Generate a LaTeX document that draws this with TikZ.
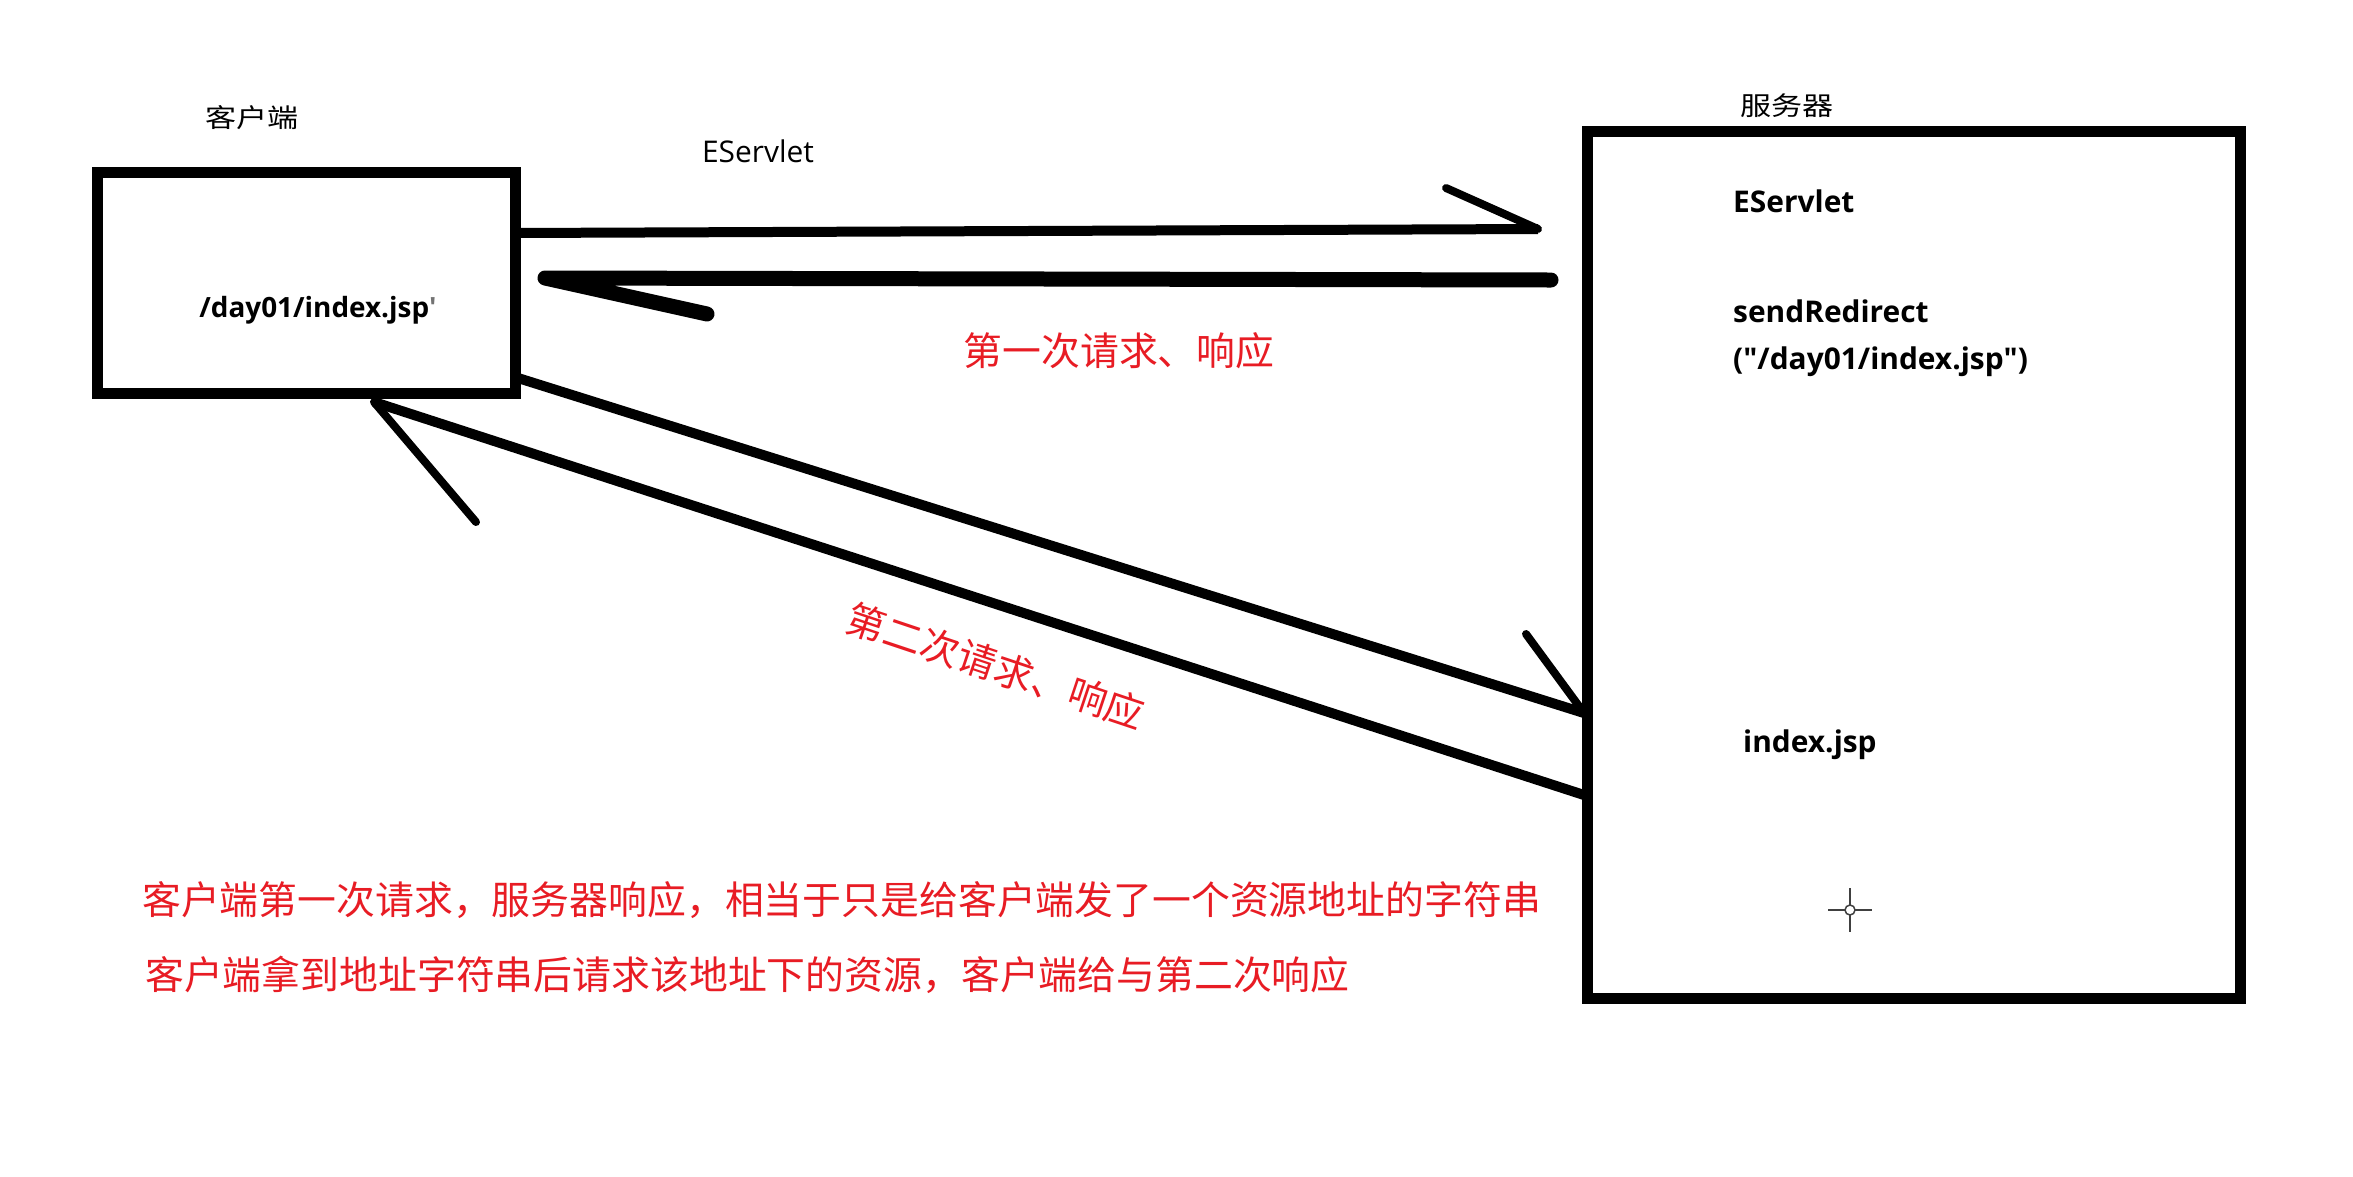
\documentclass[tikz,border=0pt]{standalone}
\usepackage{fontspec}
\setmainfont{Open Sans}
\newfontfamily\cjk{Noto Sans CJK SC}
\newfontfamily\cjkwide[FakeStretch=1.2]{Noto Sans CJK SC}
\definecolor{redtxt}{RGB}{232,28,36}
\begin{document}
\begin{tikzpicture}[x=1bp,y=-1bp,
  box/.style={draw=black, line width=11bp, inner sep=0pt},
  lbl/.style={inner sep=0pt, font=\cjkwide\fontsize{26}{30}\selectfont},
  latin/.style={inner sep=0pt, font=\fontsize{30}{36}\selectfont},
  code/.style={inner sep=0pt, anchor=west, font=\bfseries\fontsize{30}{36}\selectfont},
  redlbl/.style={inner sep=0pt, text=redtxt, font=\cjk\fontsize{39}{46}\selectfont},
  wire/.style={line width=10bp, line join=round},
  barb/.style={line width=8bp, line cap=round},
  thick wire/.style={line width=15bp, line cap=round, line join=round}]
\fill[white] (0,0) rectangle (2353,1176);
\useasboundingbox (0,0) rectangle (2353,1176);

% boxes
\node[box, minimum width=417bp, minimum height=221bp] (client) at (306.5,282.5) {};
\node[box, minimum width=653bp, minimum height=867bp] (server) at (1913.5,564.5) {};

% titles
\node[lbl] (clientlbl) at (252,118) {客户端};
\node[lbl] (serverlbl) at (1787,106) {服务器};
\node[latin] (eslbl) at (758,151) {EServlet};

% texts in boxes
\node[inner sep=0pt, font=\bfseries\fontsize{28}{34}\selectfont] (path) at (318,310) {/day01/index.jsp\textcolor{black!55}{\textquotesingle}};
\node[code] (es) at (1733,201) {EServlet};
\node[code] (sr) at (1733,311) {sendRedirect};
\node[code] (arg) at (1733,362) {(\textquotedbl/day01/index.jsp\textquotedbl)};
\node[code] (idx) at (1743,745) {index.jsp};

% first request / response
\coordinate (r1s) at (515,233);
\coordinate (r1e) at (1538,229);
\coordinate (r1b) at (1446,188);
\draw[wire] (r1s) -- (r1e);
\draw[barb] (r1b) -- (r1e);

\coordinate (p1s) at (1551,280);
\coordinate (p1e) at (545,278);
\coordinate (p1b) at (707,314);
\draw[thick wire] (p1s) -- (p1e) -- (p1b);

% second request / response
\coordinate (r2s) at (518,378);
\coordinate (r2e) at (1584,713);
\coordinate (r2b) at (1526,634);
\draw[wire] (r2s) -- (r2e);
\draw[barb] (r2b) -- (r2e);

\coordinate (p2s) at (1584,795);
\coordinate (p2e) at (374,402);
\coordinate (p2b) at (476,522);
\draw[wire] (p2s) -- (p2e);
\draw[barb] (p2e) -- (p2b);

% red labels
\node[redlbl] (first) at (1119,351) {第一次请求、响应};
\node[redlbl, rotate=-18.5] (second) at (996,666) {第二次请求、响应};
\node[redlbl, anchor=west] (note1) at (142,900) {客户端第一次请求，服务器响应，相当于只是给客户端发了一个资源地址的字符串};
\node[redlbl, anchor=west] (note2) at (145,975) {客户端拿到地址字符串后请求该地址下的资源，客户端给与第二次响应};

% cursor crosshair
\draw[line width=2.5bp, black!75] (1828,910) -- (1845,910) (1855,910) -- (1872,910)
  (1850,888) -- (1850,905) (1850,915) -- (1850,932);
\draw[line width=1.5bp, black!75] (1850,910) circle (5);
\end{tikzpicture}
\end{document}
